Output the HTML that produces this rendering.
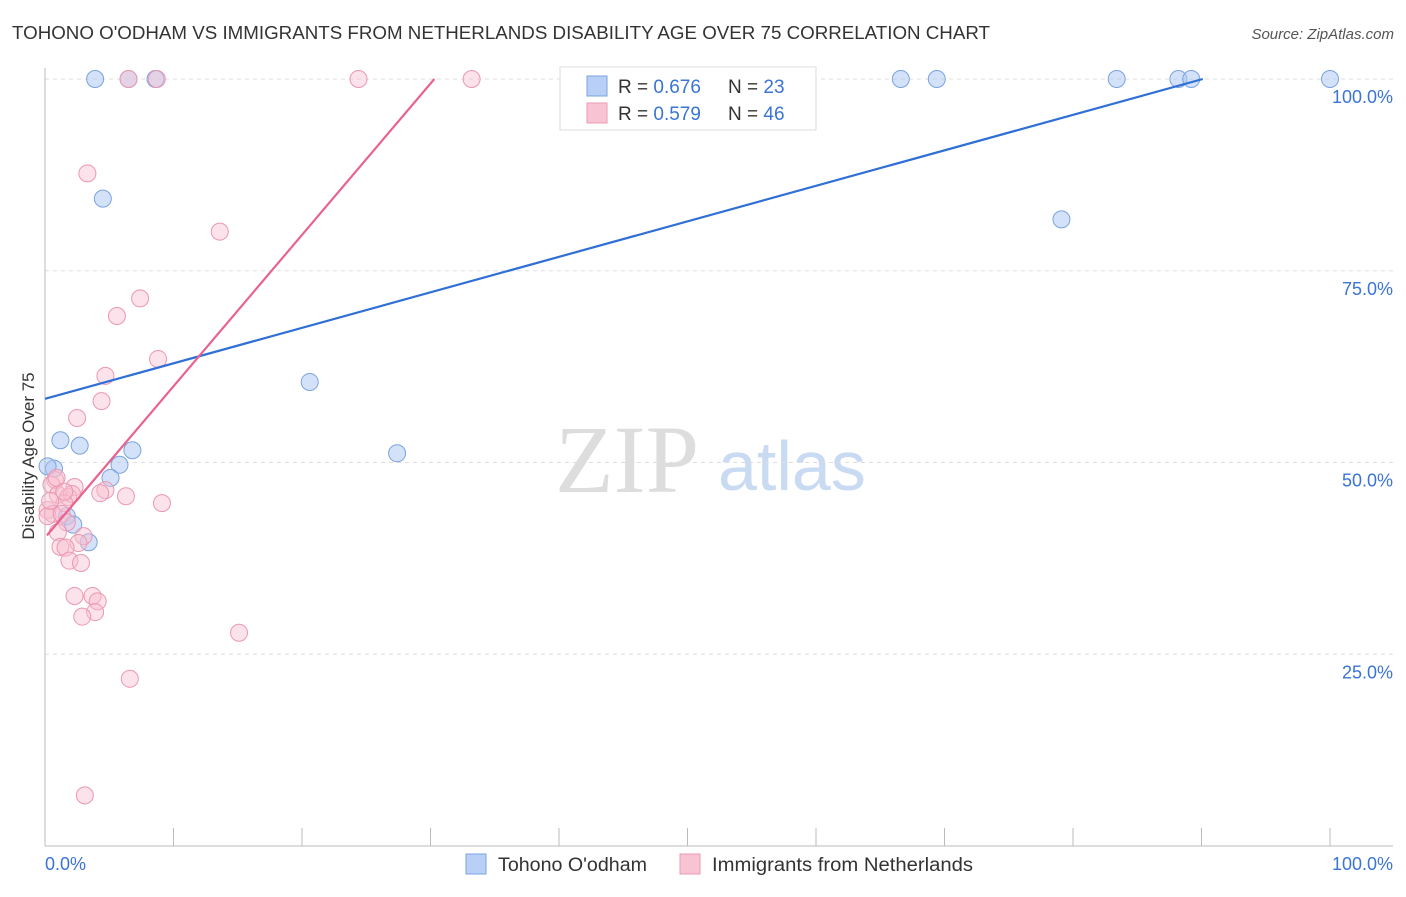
<!DOCTYPE html>
<html><head><meta charset="utf-8"><style>
body{margin:0;background:#fff;font-family:"Liberation Sans",sans-serif;}
</style></head><body>
<svg width="1406" height="892" xmlns="http://www.w3.org/2000/svg" font-family="Liberation Sans, sans-serif">
<text x="12" y="39" font-size="18" fill="#333" textLength="978" lengthAdjust="spacingAndGlyphs">TOHONO O'ODHAM VS IMMIGRANTS FROM NETHERLANDS DISABILITY AGE OVER 75 CORRELATION CHART</text>
<text x="1394" y="39" font-size="15" fill="#555" font-style="italic" text-anchor="end">Source: ZipAtlas.com</text>
<text x="555" y="492" font-size="96" fill="#ddd" font-family="Liberation Serif, serif">ZIP</text>
<text x="718" y="490" font-size="70" fill="#c9daf3">atlas</text>
<g id="grid"></g>
<g id="axes"></g>
<g id="marks"></g>
<text x="34" y="456" font-size="17" fill="#333" text-anchor="middle" transform="rotate(-90 34 456)">Disability Age Over 75</text>
<g>
<rect x="560" y="67" width="256" height="63" fill="#fff" stroke="#ddd"/>
<rect x="587" y="76" width="20" height="20" fill="#b8d0f5" stroke="#7aa3e0"/>
<text x="618" y="93" font-size="19" fill="#333">R = <tspan fill="#3a74d4">0.676</tspan></text>
<text x="728" y="93" font-size="19" fill="#333">N = <tspan fill="#3a74d4">23</tspan></text>
<rect x="587" y="103" width="20" height="20" fill="#f8c3d3" stroke="#eb98b2"/>
<text x="618" y="120" font-size="19" fill="#333">R = <tspan fill="#3a74d4">0.579</tspan></text>
<text x="728" y="120" font-size="19" fill="#333">N = <tspan fill="#3a74d4">46</tspan></text>
</g>
<g>
<rect x="466" y="854" width="20" height="20" fill="#b8d0f5" stroke="#7aa3e0"/>
<text x="498" y="871" font-size="19" fill="#333" textLength="149" lengthAdjust="spacingAndGlyphs">Tohono O'odham</text>
<rect x="680" y="854" width="20" height="20" fill="#f8c3d3" stroke="#eb98b2"/>
<text x="712" y="871" font-size="19" fill="#333" textLength="261" lengthAdjust="spacingAndGlyphs">Immigrants from Netherlands</text>
</g>
</svg>
<script>
const yTicks=[25,50,75,100];
const yTickLabels=["25.0%","50.0%","75.0%","100.0%"];
const xTicks=[0,10,20,30,40,50,60,70,80,90,100];
const blueX=[3.9,6.5,8.6,66.6,69.4,83.4,88.2,89.2,100,4.5,79.1,20.6,27.4,1.2,2.7,6.8,0.7,0.2,5.8,5.1,1.7,2.2,3.4];
const blueY=[100,100,100,100,100,100,100,100,100,84.4,81.7,60.5,51.2,52.9,52.2,51.6,49.2,49.5,49.7,48.0,43.0,41.9,39.6];
const pinkX=[6.5,8.7,24.4,33.2,3.3,13.6,7.4,5.6,8.8,4.7,4.4,2.5,0.8,0.5,2.3,4.7,6.3,9.1,1.0,1.8,2.1,1.5,0.2,0.6,0.2,1.3,1.7,3.0,1.0,2.6,1.2,1.6,1.9,2.8,2.3,3.7,4.1,3.9,2.9,15.1,6.6,3.1,0.9,4.3,1.5,0.4];
const pinkY=[100,100,100,100,87.7,80.1,71.4,69.1,63.5,61.3,58.0,55.8,47.7,47.1,46.8,46.4,45.6,44.7,45.8,45.5,45.9,44.7,43.8,43.3,43.0,43.3,42.2,40.4,40.9,39.5,39.0,38.9,37.2,36.9,32.6,32.6,31.9,30.5,29.9,27.8,21.8,6.6,48.0,46.0,46.2,45.0];
const blueLine=[[0,58.3],[90.1,100]];
const pinkLine=[[0.15,40.5],[30.3,100]];
const X=v=>45+v*12.85, Y=v=>846-v*7.67;
const NS="http://www.w3.org/2000/svg";
function mk(t,a,p){const e=document.createElementNS(NS,t);for(const k in a)e.setAttribute(k,a[k]);document.getElementById(p).appendChild(e);return e;}
yTicks.forEach((t,i)=>{
 const l=mk('line',{x1:45,x2:1393,y1:Y(t),y2:Y(t),stroke:'#ddd','stroke-dasharray':'4,4'},'grid');
 
 
 const tx=mk('text',{x:1393,y:Y(t)+24,'font-size':18,fill:'#3a74d4','text-anchor':'end'},'axes');
 tx.textContent=yTickLabels[i];
 
 
});
let a=mk('line',{x1:45,x2:45,y1:68,y2:846,stroke:'#bbb'},'axes');


a=mk('line',{x1:45,x2:1393,y1:846,y2:846,stroke:'#bbb'},'axes');


xTicks.forEach(t=>{
 const l=mk('line',{x1:X(t),x2:X(t),y1:828,y2:846,stroke:'#bbb'},'axes');
 
 
});
let t=mk('text',{x:45,y:870,'font-size':18,fill:'#3a74d4'},'axes');t.textContent='0.0%';


t=mk('text',{x:1393,y:870,'font-size':18,fill:'#3a74d4','text-anchor':'end'},'axes');t.textContent='100.0%';


blueX.forEach((v,i)=>{
 const c=mk('circle',{cx:X(v),cy:Y(blueY[i]),r:8.5,fill:'rgba(170,198,243,0.5)',stroke:'#7aa3e0','stroke-width':1},'marks');
 
 
});
pinkX.forEach((v,i)=>{
 const c=mk('circle',{cx:X(v),cy:Y(pinkY[i]),r:8.5,fill:'rgba(248,190,208,0.45)',stroke:'#eb98b2','stroke-width':1},'marks');
 
 
});
let r=mk('line',{x1:X(blueLine[0][0]),y1:Y(blueLine[0][1]),x2:X(blueLine[1][0]),y2:Y(blueLine[1][1]),stroke:'#2f6fd6','stroke-width':2.2},'marks');


r=mk('line',{x1:X(pinkLine[0][0]),y1:Y(pinkLine[0][1]),x2:X(pinkLine[1][0]),y2:Y(pinkLine[1][1]),stroke:'#e8638f','stroke-width':2.2},'marks');


</script>
</body></html>
